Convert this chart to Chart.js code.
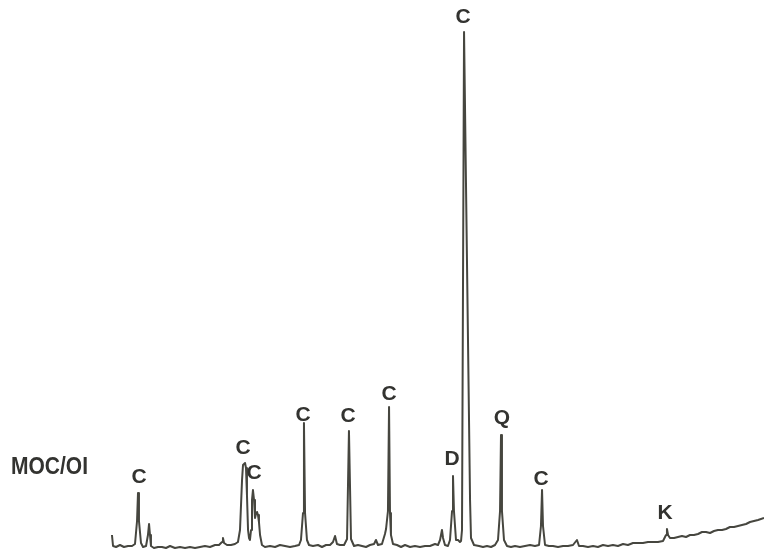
<!DOCTYPE html>
<html>
<head>
<meta charset="utf-8">
<script src="https://cdn.jsdelivr.net/npm/chart.js@4/dist/chart.umd.min.js"></script>
<style>
  html, body { margin: 0; padding: 0; background: #ffffff; }
  #wrap { width: 764px; height: 556px; }
</style>
</head>
<body>
<div id="wrap"><canvas id="c" width="764" height="556"></canvas></div>
<script>
// Diffraction angle (2θ, degrees; scan runs high → low from left to right)
const twoTheta = [
  58.67,58.58,58.33,58.00,57.67,57.33,57.00,56.75,56.58,56.50,
  56.42,56.25,56.08,55.83,55.67,55.58,55.50,55.42,55.17,54.83,
  54.50,54.17,53.83,53.42,53.00,52.58,52.17,51.75,51.33,50.92,
  50.50,50.08,49.75,49.50,49.42,49.33,49.08,48.75,48.42,48.17,
  48.00,47.83,47.75,47.58,47.50,47.42,47.33,47.25,47.17,47.08,
  47.00,46.92,46.83,46.75,46.67,46.58,46.50,46.42,46.33,46.17,
  45.92,45.50,45.08,44.67,44.25,43.83,43.42,43.08,42.92,42.75,
  42.67,42.58,42.42,42.25,41.92,41.50,41.17,40.83,40.50,40.25,
  40.08,39.92,39.67,39.33,39.08,38.92,38.75,38.50,38.17,37.83,
  37.50,37.17,36.83,36.67,36.50,36.17,35.92,35.83,35.67,35.58,
  35.50,35.42,35.25,34.92,34.58,34.25,33.83,33.42,33.00,32.58,
  32.17,31.75,31.50,31.33,31.17,31.08,30.92,30.67,30.50,30.33,
  30.25,30.17,30.00,29.83,29.67,29.58,29.50,29.33,28.83,28.75,
  28.50,28.08,27.75,27.42,27.08,26.75,26.50,26.33,26.25,26.17,
  26.00,25.75,25.42,25.08,24.67,24.25,23.83,23.42,23.08,22.92,
  22.83,22.75,22.58,22.25,21.92,21.50,21.08,20.67,20.25,19.92,
  19.75,19.42,19.00,18.58,18.17,17.75,17.33,16.92,16.50,16.08,
  15.67,15.25,14.83,14.42,14.00,13.58,13.17,12.75,12.50,12.42,
  12.33,12.17,11.83,11.50,11.17,10.83,10.50,10.17,9.83,9.50,
  9.17,8.83,8.50,8.17,7.83,7.50,7.17,6.83,6.50,6.17,
  5.83,5.50,5.17,4.83,4.33
];

// Recorded intensity (arbitrary units)
const intensity = [
  4.2,2.0,1.8,2.2,1.8,2.0,2.0,2.4,7.0,12.6,
  7.0,2.6,1.8,2.0,4.2,6.4,4.2,2.0,1.6,1.8,
  1.8,1.6,2.0,1.6,1.8,1.6,1.8,1.6,1.8,2.0,
  1.8,2.2,2.2,2.8,3.6,2.6,2.2,2.2,2.4,2.8,
  5.2,15.2,18.2,18.6,17.6,12.2,5.2,3.6,3.2,5.2,
  11.2,13.2,11.2,7.6,8.4,8.8,8.2,6.8,4.2,2.2,
  1.8,2.0,1.8,2.2,2.0,1.8,2.0,2.2,3.2,8.6,
  26.6,8.6,3.2,2.2,2.0,2.2,1.8,2.2,2.2,2.8,
  4.0,2.4,2.2,2.2,3.4,25.0,3.4,2.0,2.2,2.0,
  1.8,2.2,2.4,3.2,2.2,2.4,4.4,5.4,9.0,29.8,
  8.6,4.2,2.4,2.2,1.8,2.2,1.8,2.0,1.8,2.0,
  2.0,2.4,2.2,3.2,5.2,3.6,2.2,2.0,3.2,9.0,
  16.0,9.0,3.2,3.2,2.8,3.0,5.2,104.8,11.2,3.6,
  2.2,2.0,1.8,2.0,1.8,2.2,3.2,9.0,24.2,9.0,
  3.2,2.0,1.8,2.0,1.8,2.0,2.2,2.0,2.2,6.0,
  13.2,6.0,2.2,2.0,2.0,1.8,2.0,2.0,2.2,3.2,
  2.0,2.0,1.8,2.0,1.8,2.2,2.0,2.2,2.0,2.4,
  2.2,2.6,2.6,2.6,2.8,2.8,2.8,3.0,4.2,5.4,
  4.2,3.6,3.6,3.8,4.0,3.8,4.2,4.2,4.4,4.8,
  4.8,4.6,5.0,5.2,5.2,5.4,5.8,5.8,6.0,6.2,
  6.4,6.8,7.0,7.2,7.6
];

// Phase labels (C calcite, D dolomite, Q quartz, K kaolinite)
const labelText  = ['C',   'C',   'C',   'C',   'C',   'C',   'C',   'D',   'Q',   'C',   'K'];
const labelTheta = [56.42, 47.75, 46.83, 42.75, 39.00, 35.58, 29.42, 30.33, 26.17, 22.92, 12.58];
const labelLevel = [15.8,  21.6,  16.6,  28.2,  28.0,  32.4,  107.8, 19.4,  27.6,  15.4,  8.6];

const sampleName = 'MOC/OI';

const points = twoTheta.map((t, i) => ({ x: t, y: intensity[i] }));

const labelPlugin = {
  id: 'phaseLabels',
  afterDatasetsDraw(chart) {
    const ctx = chart.ctx;
    const xs = chart.scales.x, ys = chart.scales.y;
    ctx.save();
    ctx.fillStyle = '#333330';
    ctx.font = 'bold 21px "Liberation Sans", Arial, sans-serif';
    ctx.textAlign = 'center';
    ctx.textBaseline = 'middle';
    labelText.forEach((t, i) => {
      ctx.fillText(t, xs.getPixelForValue(labelTheta[i]), ys.getPixelForValue(labelLevel[i]));
    });
    // sample name at the left
    ctx.font = 'bold 24px "Liberation Sans", Arial, sans-serif';
    ctx.textAlign = 'left';
    const w = ctx.measureText(sampleName).width;
    ctx.translate(11, 467);
    ctx.scale(77 / w, 1);
    ctx.fillText(sampleName, 0, 0);
    ctx.restore();
  }
};

new Chart(document.getElementById('c'), {
  type: 'line',
  data: {
    datasets: [{
      data: points,
      borderColor: '#46463f',
      borderWidth: 2,
      pointRadius: 0,
      tension: 0,
      fill: false,
      borderJoinStyle: 'round'
    }]
  },
  options: {
    responsive: false,
    animation: false,
    events: [],
    layout: { padding: 0 },
    plugins: { legend: { display: false }, tooltip: { enabled: false }, title: { display: false } },
    scales: {
      x: { type: 'linear', reverse: true, min: 68 - 764 / 12, max: 68, display: false },
      y: { type: 'linear', min: 0, max: 111.2, display: false }
    }
  },
  plugins: [labelPlugin]
});
</script>
</body>
</html>
